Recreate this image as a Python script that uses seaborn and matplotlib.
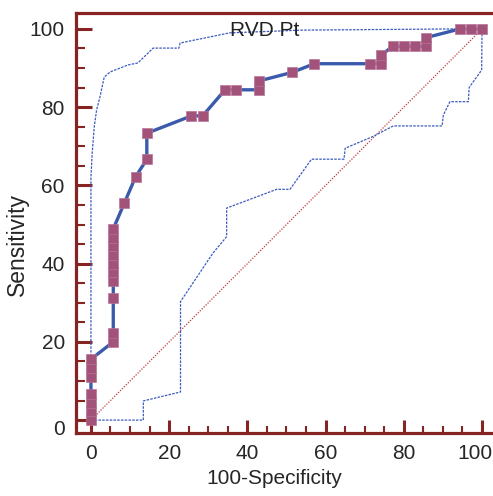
import matplotlib
matplotlib.use("Agg")
import matplotlib.pyplot as plt
import matplotlib.transforms as mtransforms
from matplotlib.ticker import MultipleLocator
import numpy as np
import pandas as pd
import seaborn as sns

# ROC curve points (100-specificity, sensitivity)
roc_x = [0, 0, 0, 0, 0, 0, 0, 5.71, 5.71, 5.71, 5.71, 5.71, 5.71, 5.71, 5.71, 5.71, 5.71,
         8.57, 11.43, 14.29, 14.29, 25.71, 28.57, 34.29, 37.14, 42.86, 42.86, 51.43, 57.14,
         71.43, 74.29, 74.29, 77.14, 80.0, 82.86, 85.71, 85.71, 94.29, 97.14, 100]
roc_y = [0, 2.22, 4.44, 6.67, 11.11, 13.33, 15.56, 20.0, 22.22, 31.11, 35.56, 37.78, 40.0,
         42.22, 44.44, 46.67, 48.89, 55.56, 62.22, 66.67, 73.33, 77.78, 77.78, 84.44, 84.44,
         84.44, 86.67, 88.89, 91.11, 91.11, 91.11, 93.33, 95.56, 95.56, 95.56, 95.56, 97.78,
         100, 100, 100]

# upper confidence bound
upper_x = [0, 0, 0.3, 0.85, 1.45, 2.3, 3.4, 4.9, 9.5, 12.0, 15.9, 22.5, 22.8, 35.5, 54.0, 93.0, 100]
upper_y = [0, 62, 68.0, 75.0, 79.3, 82.6, 87.7, 89.0, 90.8, 91.3, 95.1, 95.1, 96.4, 99.0, 99.7, 100, 100]

# lower confidence bound
lower_x = [0, 13.4, 13.4, 22.9, 22.9, 31.2, 34.7, 34.7, 34.7, 47.5, 50.9, 56.4, 64.7, 65.0,
           72.1, 77.3, 89.8, 90.1, 91.8, 96.5, 96.7, 99.9, 100]
lower_y = [0, 0, 4.9, 7.2, 30.3, 42.7, 46.9, 48.6, 54.2, 59.0, 59.0, 66.7, 66.7, 69.5,
           72.5, 75.2, 75.2, 78.0, 81.4, 81.4, 85.0, 89.5, 100]

ref_x = [0, 100]
ref_y = [0, 100]

ticks = [0, 20, 40, 60, 80, 100]

sns.set_style("white")
plt.rcParams["font.family"] = ["Liberation Sans", "DejaVu Sans"]
plt.rcParams["font.size"] = 15

SPINE = "#862424"
BAND = "#3b5bbf"

fig = plt.figure(figsize=(4.93, 4.96), dpi=100)
ax = fig.add_axes([0.154, 0.127, 0.846, 0.847])

ax.plot(ref_x, ref_y, color="#c0393b", lw=0.9, linestyle=(0, (1, 1.2)), zorder=2)

sns.lineplot(x=upper_x, y=upper_y, ax=ax, sort=False, estimator=None,
             color=BAND, lw=0.9, linestyle=(0, (2, 1)), zorder=2)
sns.lineplot(x=lower_x, y=lower_y, ax=ax, sort=False, estimator=None,
             color=BAND, lw=0.9, linestyle=(0, (2, 1)), zorder=2)

df = pd.DataFrame({"x": roc_x, "y": roc_y})
sns.lineplot(data=df, x="x", y="y", ax=ax, sort=False, estimator=None,
             color="#3a5bab", lw=2.4, marker="s", markersize=7.8,
             markerfacecolor="#a35279", markeredgecolor="#b8739a",
             markeredgewidth=0.5, zorder=3)

ax.text(35.5, 98.3, "RVD Pt", fontsize=15, color="#222222", ha="left", va="baseline")

ax.set_xlim(-3.84, 102.8)
ax.set_ylim(-3.3, 104.1)
ax.set_xticks(ticks)
ax.set_yticks(ticks)
ax.xaxis.set_minor_locator(MultipleLocator(5))
ax.yaxis.set_minor_locator(MultipleLocator(5))

for side in ["left", "top", "bottom"]:
    ax.spines[side].set_color(SPINE)
    ax.spines[side].set_linewidth(2.3)
ax.spines["right"].set_visible(False)

ax.tick_params(axis="y", which="major", direction="in", length=11.5, width=2.2,
               color=SPINE, labelsize=15, pad=8, left=True)
ax.tick_params(axis="y", which="minor", direction="in", length=6.5, width=1.5,
               color=SPINE, left=True)
ax.tick_params(axis="x", which="major", direction="in", length=9.5, width=2.2,
               color=SPINE, labelsize=15, pad=8, bottom=True)
ax.tick_params(axis="x", which="minor", direction="in", length=5, width=1.5,
               color=SPINE, bottom=True)

# last x label sits a bit left of its tick, first y label a bit low
xlabels = ax.get_xticklabels()
xlabels[-1].set_transform(xlabels[-1].get_transform() +
                          mtransforms.ScaledTranslation(-7 / 100, 0, fig.dpi_scale_trans))
ylabels = ax.get_yticklabels()
ylabels[0].set_transform(ylabels[0].get_transform() +
                         mtransforms.ScaledTranslation(0, -7 / 100, fig.dpi_scale_trans))

ax.set_xlabel("100-Specificity", fontsize=15)
ax.set_ylabel("Sensitivity", fontsize=16.5)
ax.xaxis.set_label_coords(0.475, -0.085)
ax.yaxis.set_label_coords(-0.113, 0.448)

fig.savefig("out.png", dpi=100)
plt.close()
